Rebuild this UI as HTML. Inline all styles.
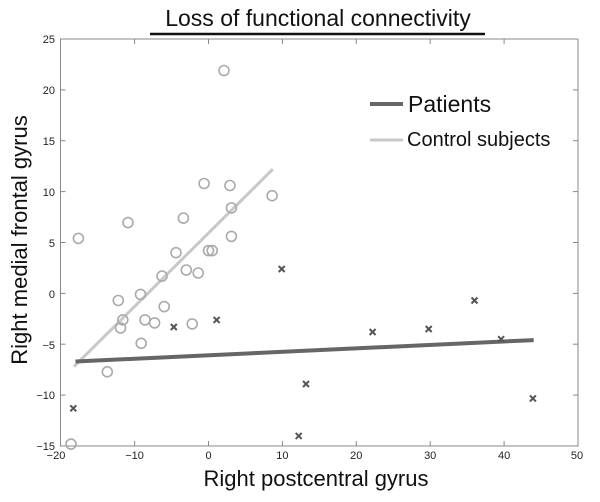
<!DOCTYPE html>
<html><head><meta charset="utf-8"><style>
html,body{margin:0;padding:0;background:#fff;}
svg{display:block;font-family:"Liberation Sans",Arial,sans-serif;}
</style></head><body>
<svg width="600" height="502" viewBox="0 0 600 502" xmlns="http://www.w3.org/2000/svg">
<rect width="600" height="502" fill="#fff"/>
<text x="318" y="26" font-size="23" text-anchor="middle" fill="#111">Loss of functional connectivity</text>
<line x1="150" y1="34" x2="485" y2="34" stroke="#111" stroke-width="2.5"/>
<rect x="60.5" y="39" width="517.5" height="407" fill="none" stroke="#888" stroke-width="1"/>
<g stroke="#888" stroke-width="1">
<line x1="134.6" y1="446" x2="134.6" y2="441"/><line x1="208.5" y1="446" x2="208.5" y2="441"/><line x1="282.4" y1="446" x2="282.4" y2="441"/><line x1="356.3" y1="446" x2="356.3" y2="441"/><line x1="430.2" y1="446" x2="430.2" y2="441"/><line x1="504.1" y1="446" x2="504.1" y2="441"/>
<line x1="134.6" y1="39" x2="134.6" y2="44"/><line x1="208.5" y1="39" x2="208.5" y2="44"/><line x1="282.4" y1="39" x2="282.4" y2="44"/><line x1="356.3" y1="39" x2="356.3" y2="44"/><line x1="430.2" y1="39" x2="430.2" y2="44"/><line x1="504.1" y1="39" x2="504.1" y2="44"/>
<line x1="60.5" y1="89.9" x2="65.5" y2="89.9"/><line x1="60.5" y1="140.7" x2="65.5" y2="140.7"/><line x1="60.5" y1="191.6" x2="65.5" y2="191.6"/><line x1="60.5" y1="242.5" x2="65.5" y2="242.5"/><line x1="60.5" y1="293.4" x2="65.5" y2="293.4"/><line x1="60.5" y1="344.2" x2="65.5" y2="344.2"/><line x1="60.5" y1="395.1" x2="65.5" y2="395.1"/>
<line x1="578" y1="89.9" x2="573" y2="89.9"/><line x1="578" y1="140.7" x2="573" y2="140.7"/><line x1="578" y1="191.6" x2="573" y2="191.6"/><line x1="578" y1="242.5" x2="573" y2="242.5"/><line x1="578" y1="293.4" x2="573" y2="293.4"/><line x1="578" y1="344.2" x2="573" y2="344.2"/><line x1="578" y1="395.1" x2="573" y2="395.1"/>
</g>
<g font-size="11" fill="#222" text-anchor="end">
<text x="55" y="43">25</text><text x="55" y="94">20</text><text x="55" y="145">15</text><text x="55" y="196">10</text><text x="55" y="247">5</text><text x="55" y="298">0</text><text x="55" y="349">−5</text><text x="55" y="399">−10</text><text x="55" y="450">−15</text>
</g>
<g font-size="11" fill="#222" text-anchor="middle">
<text x="56" y="459">−20</text><text x="134.6" y="459">−10</text><text x="208.5" y="459">0</text><text x="282.4" y="459">10</text><text x="356.3" y="459">20</text><text x="430.2" y="459">30</text><text x="504.1" y="459">40</text><text x="577" y="459">50</text>
</g>
<text x="316" y="486" font-size="22" text-anchor="middle" fill="#111">Right postcentral gyrus</text>
<text transform="translate(27,240) rotate(-90)" font-size="22" text-anchor="middle" fill="#111">Right medial frontal  gyrus</text>
<line x1="74" y1="366.6" x2="272.8" y2="169.2" stroke="#c8c8c8" stroke-width="3"/>
<line x1="75.5" y1="361.5" x2="533.7" y2="340.1" stroke="#666" stroke-width="4"/>
<g fill="none" stroke="#aaa" stroke-width="1.6">
<circle cx="224" cy="70.5" r="5"/><circle cx="78.4" cy="238.4" r="5"/><circle cx="128" cy="222.6" r="5"/><circle cx="183.4" cy="218.1" r="5"/><circle cx="204.1" cy="183.5" r="5"/><circle cx="229.9" cy="185.5" r="5"/><circle cx="231.4" cy="207.9" r="5"/><circle cx="272.1" cy="195.7" r="5"/><circle cx="231.4" cy="236.4" r="5"/><circle cx="176" cy="252.7" r="5"/><circle cx="208.5" cy="250.6" r="5"/><circle cx="212.2" cy="250.6" r="5"/><circle cx="186.3" cy="270" r="5"/><circle cx="198.2" cy="273" r="5"/><circle cx="162" cy="276.1" r="5"/><circle cx="140.5" cy="294.4" r="5"/><circle cx="118.3" cy="300.5" r="5"/><circle cx="164.2" cy="306.6" r="5"/><circle cx="122.8" cy="319.9" r="5"/><circle cx="120.6" cy="328" r="5"/><circle cx="145" cy="319.9" r="5"/><circle cx="154.6" cy="322.9" r="5"/><circle cx="192.2" cy="323.9" r="5"/><circle cx="141.2" cy="343.3" r="5"/><circle cx="107.3" cy="371.8" r="5"/><circle cx="71" cy="444.1" r="5"/>
</g>
<g stroke="#555" stroke-width="2">
<path d="M70.3 405.3l6 6m0-6l-6 6M170.8 324l6 6m0-6l-6 6M213.6 316.9l6 6m0-6l-6 6M278.7 266l6 6m0-6l-6 6M369.6 329l6 6m0-6l-6 6M425.7 326l6 6m0-6l-6 6M471.5 297.5l6 6m0-6l-6 6M498.1 336.2l6 6m0-6l-6 6M303 381l6 6m0-6l-6 6M295.7 432.9l6 6m0-6l-6 6M529.9 395.4l6 6m0-6l-6 6"/>
</g>
<line x1="370" y1="104" x2="403" y2="104" stroke="#666" stroke-width="4"/>
<text x="408" y="112" font-size="23" fill="#111">Patients</text>
<line x1="370" y1="140" x2="403" y2="140" stroke="#c8c8c8" stroke-width="3"/>
<text x="407" y="146" font-size="20" fill="#111">Control subjects</text>
</svg>
</body></html>
